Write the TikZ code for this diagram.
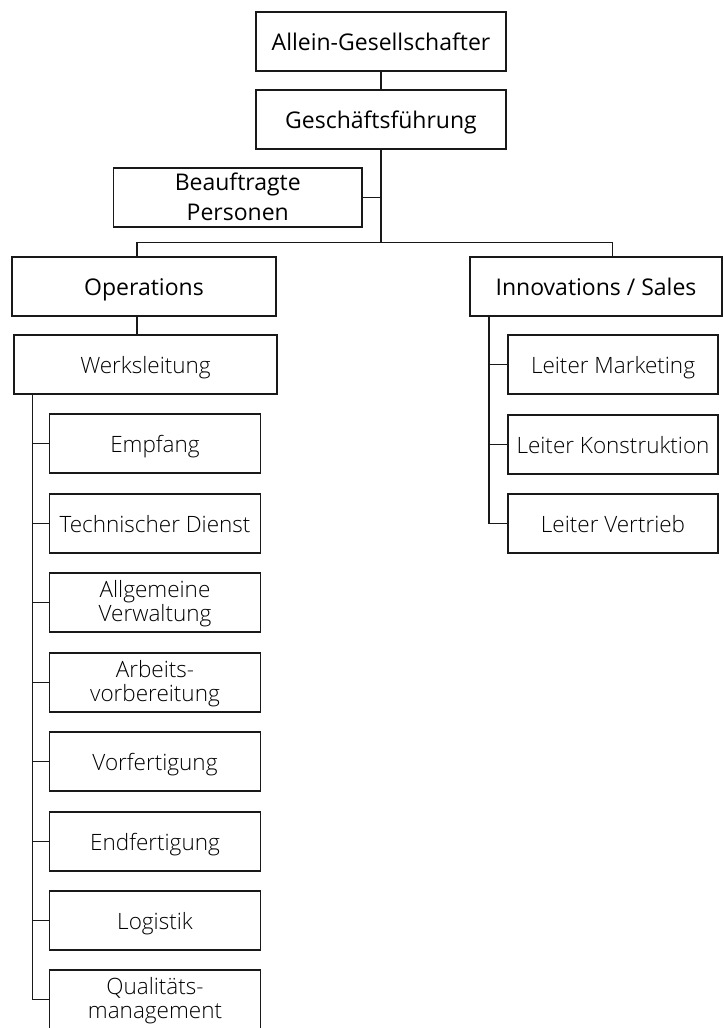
\documentclass[tikz,border=0pt]{standalone}
\usepackage{fontspec}
\setmainfont{Open Sans}
\newfontfamily\lightfont{Open Sans Light}
% two-line label: #1 first line, #2 second line, #3 baseline skip, #4 shift of last baseline
\newcommand\twoline[4]{\raisebox{#4}[17pt][0pt]{\vbox{\baselineskip=#3\lineskiplimit=-20pt\halign{\hfil##\hfil\cr #1\cr #2\cr}}}}
\begin{document}
\begin{tikzpicture}[x=1pt,y=-1pt,
  box/.style={draw=black!90, line width=1.4pt, inner sep=0pt,
    text height=17pt, text depth=0pt, minimum height=59pt},
  upper/.style={box, font=\fontsize{23}{30}\selectfont},
  lower/.style={box, font=\lightfont\fontsize{22.5}{24}\selectfont},
  leftchild/.style={lower, minimum width=211pt},
  rightchild/.style={lower, minimum width=210pt},
  conn/.style={draw=black!90, line width=1.4pt}]
\useasboundingbox (0,0) rectangle (723,1028);
% top
\node[upper, minimum width=250pt] (allein) at (381,41.5) {Allein-Gesellschafter};
\node[upper, minimum width=250pt] (gf) at (381,119.5) {Geschäftsführung};
\node[upper, minimum width=248.5pt] (beauf) at (237.75,197.5) {\twoline{Beauftragte}{Personen}{30pt}{-14pt}};
\node[upper, minimum width=264pt] (ops) at (144,286.5) {Operations};
\node[upper, minimum width=252pt] (innov) at (596,286.5) {Innovations / Sales};
\node[lower, minimum width=263pt] (werks) at (145.5,364.5) {Werksleitung};
% right children
\node[rightchild] (lm) at (613,364.5) {Leiter Marketing};
\node[rightchild] (lk) at (613,444.5) {Leiter Konstruktion};
\node[rightchild] (lv) at (613,523.5) {Leiter Vertrieb};
% left children
\node[leftchild] (c1) at (155,443.5) {Empfang};
\node[leftchild] (c2) at (155,523.5) {Technischer Dienst};
\node[leftchild] (c3) at (155,602.5) {\twoline{Allgemeine}{Verwaltung}{24pt}{-10.5pt}};
\node[leftchild] (c4) at (155,682.5) {\twoline{Arbeits-}{vorbereitung}{24pt}{-10pt}};
\node[leftchild] (c5) at (155,761.5) {Vorfertigung};
\node[leftchild] (c6) at (155,841.5) {Endfertigung};
\node[leftchild] (c7) at (155,920.5) {Logistik};
\node[leftchild] (c8) at (155,999.5) {\twoline{Qualitäts-}{management}{24pt}{-10pt}};
% coordinates
\coordinate (bus) at (381,242.5);
\coordinate (bL) at (137,242.5);
\coordinate (bR) at (612.5,242.5);
\coordinate (lt) at (32.3,0);
\coordinate (rt) at (489,0);
% connectors
\draw[conn] (allein.south) -- (gf.north);
\draw[conn] (gf.south) -- (bus);
\draw[conn] (beauf.east) -- (beauf.east -| bus);
\draw[conn] (ops.north -| bL) -- (bL) -- (bR) -- (innov.north -| bR);
\draw[conn] (ops.south -| bL) -- (werks.north -| bL);
\draw[conn] (werks.south -| lt) |- (c8.west);
\foreach \c in {c1,c2,c3,c4,c5,c6,c7}
  \draw[conn] (\c.west) -- (\c.west -| lt);
\draw[conn] (innov.south -| rt) |- (lv.west);
\foreach \c in {lm,lk}
  \draw[conn] (\c.west) -- (\c.west -| rt);
\end{tikzpicture}
\end{document}
